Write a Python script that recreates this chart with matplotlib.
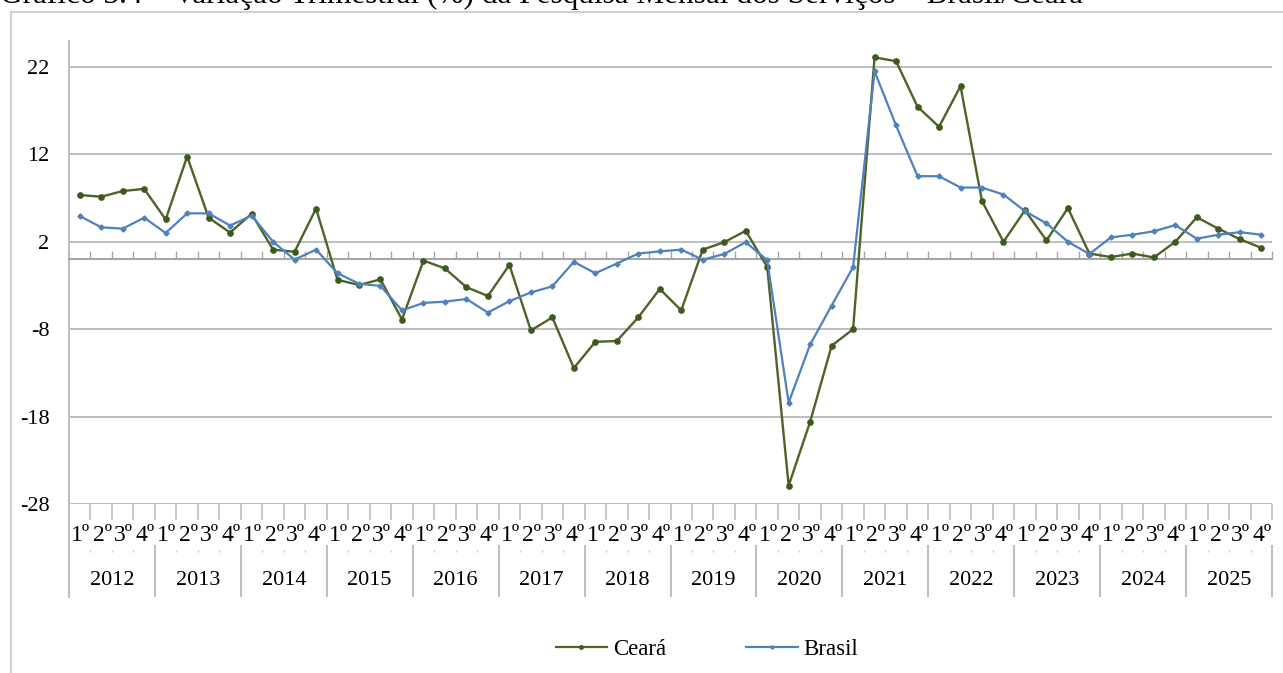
import numpy as np
import matplotlib
matplotlib.use("Agg")
import matplotlib.pyplot as plt
from matplotlib.lines import Line2D

# quarterly change (%) - Pesquisa Mensal dos Serviços
years = ['2012', '2013', '2014', '2015', '2016', '2017', '2018',
         '2019', '2020', '2021', '2022', '2023', '2024', '2025']
quarters = ['1º', '2º', '3º', '4º']

ceara = [7.35, 7.15, 7.8, 8.05,
         4.55, 11.75, 4.75, 3.05,
         5.2, 1.1, 0.85, 5.8,
         -2.35, -2.95, -2.3, -6.9,
         -0.15, -1.05, -3.2, -4.2,
         -0.65, -8.15, -6.65, -12.45,
         -9.45, -9.35, -6.65, -3.4,
         -5.85, 1.1, 1.95, 3.25,
         -0.85, -25.9, -18.6, -9.9,
         -8.0, 23.1, 22.65, 17.45,
         15.15, 19.8, 6.65, 2.0,
         5.6, 2.15, 5.85, 0.65,
         0.25, 0.65, 0.2, 2.0,
         4.8, 3.5, 2.3, 1.3]

brasil = [4.95, 3.65, 3.5, 4.75,
          3.0, 5.25, 5.25, 3.85,
          5.0, 2.0, -0.05, 1.1,
          -1.6, -2.8, -3.05, -5.85,
          -5.0, -4.85, -4.55, -6.1,
          -4.8, -3.8, -3.1, -0.3,
          -1.6, -0.5, 0.65, 0.9,
          1.1, -0.05, 0.6, 1.95,
          -0.1, -16.4, -9.75, -5.3,
          -0.9, 21.5, 15.3, 9.5,
          9.5, 8.2, 8.2, 7.4,
          5.5, 4.1, 2.0, 0.6,
          2.5, 2.8, 3.2, 3.9,
          2.35, 2.8, 3.1, 2.8]

yticks = [22, 12, 2, -8, -18, -28]

plt.rcParams['font.family'] = ['Liberation Serif', 'DejaVu Serif']

W, H = 1283, 673
fig = plt.figure(figsize=(W / 100, H / 100), dpi=100)
ax = fig.add_axes([69 / W, (H - 504) / H, 1203 / W, 463.3 / H])

n = len(ceara)
x = np.arange(n)
green = '#4F6228'
blue = '#4F81BD'
grid_c = '#BFBFBF'

ax.plot(x, ceara, color=green, lw=1.7, marker='o', ms=3.8, mfc='#3D5A1E', mec='#3D5A1E', zorder=4)
ax.plot(x, brasil, color=blue, lw=1.6, marker='D', ms=2.6, mfc=blue, mec=blue, zorder=5)

ax.set_xlim(-0.5, n - 0.5)
ax.set_ylim(-28, 25)

# horizontal gridlines
for v in yticks:
    ax.axhline(v, color=grid_c, lw=1.5, zorder=1)

for s in ['top', 'right', 'left']:
    ax.spines[s].set_visible(False)
ax.spines['bottom'].set_position(('data', 0))
ax.spines['bottom'].set_color('#A6A6A6')
ax.spines['bottom'].set_linewidth(1.5)

bounds = np.arange(n + 1) - 0.5
ax.set_xticks(bounds)
ax.set_xticklabels([])
ax.tick_params(axis='x', direction='in', length=5.5, width=1.0, color='#A6A6A6')

ax.set_yticks(yticks)
ax.set_yticklabels([str(v) for v in yticks], fontsize=16)
ax.tick_params(axis='y', length=0, pad=14)

trans = ax.get_xaxis_transform()
# left vertical line down through the label area
ax.plot([-0.5, -0.5], [1, -0.2], color=grid_c, lw=1.5, transform=trans, clip_on=False)
# ticks below the bottom line
ax.vlines(bounds, -0.035, 0, color=grid_c, lw=1.2, transform=trans, clip_on=False)

for i in range(n):
    ax.text(i + 0.05, -0.068, quarters[i % 4], transform=trans, ha='center', va='center',
            fontsize=17, clip_on=False)

for k, yr in enumerate(years):
    ax.text(4 * k + 1.5, -0.165, yr, transform=trans, ha='center', va='center', fontsize=16)
    for j in range(1, 4):
        ax.vlines(4 * k + j - 0.5, -0.104, -0.099, color='#C8C8C8', lw=1.0, transform=trans, clip_on=False)
ax.vlines(bounds[::4], -0.088, -0.2, color=grid_c, lw=1.5, transform=trans, clip_on=False)

# outer frame
fig.add_artist(Line2D([11 / W, 11 / W], [0, 1 - 12 / H], color='#D0D0D0', lw=1.5))
fig.add_artist(Line2D([11 / W, 1], [1 - 12 / H, 1 - 12 / H], color='#D0D0D0', lw=1.5))

# title sits partly above the top edge, as in the source
fig.text(0.0, 1 - 3.5 / H, 'Gráfico 3.4 – Variação Trimestral (%) da Pesquisa Mensal dos Serviços – Brasil/Ceará',
         fontsize=22.5, ha='left', va='baseline')

handles = [Line2D([], [], color=green, lw=1.6, marker='o', ms=2.5, mfc='#3D5A1E', mec='#3D5A1E'),
           Line2D([], [], color=blue, lw=1.6, marker='D', ms=1.8, mfc=blue, mec=blue)]
fig.legend(handles, ['Ceará', 'Brasil'], loc='center', bbox_to_anchor=(707 / W, (H - 649) / H),
           ncol=2, frameon=False, fontsize=16.5, handlelength=2.25, handletextpad=0.25,
           columnspacing=3.5)

plt.savefig('out.png', dpi=100)
